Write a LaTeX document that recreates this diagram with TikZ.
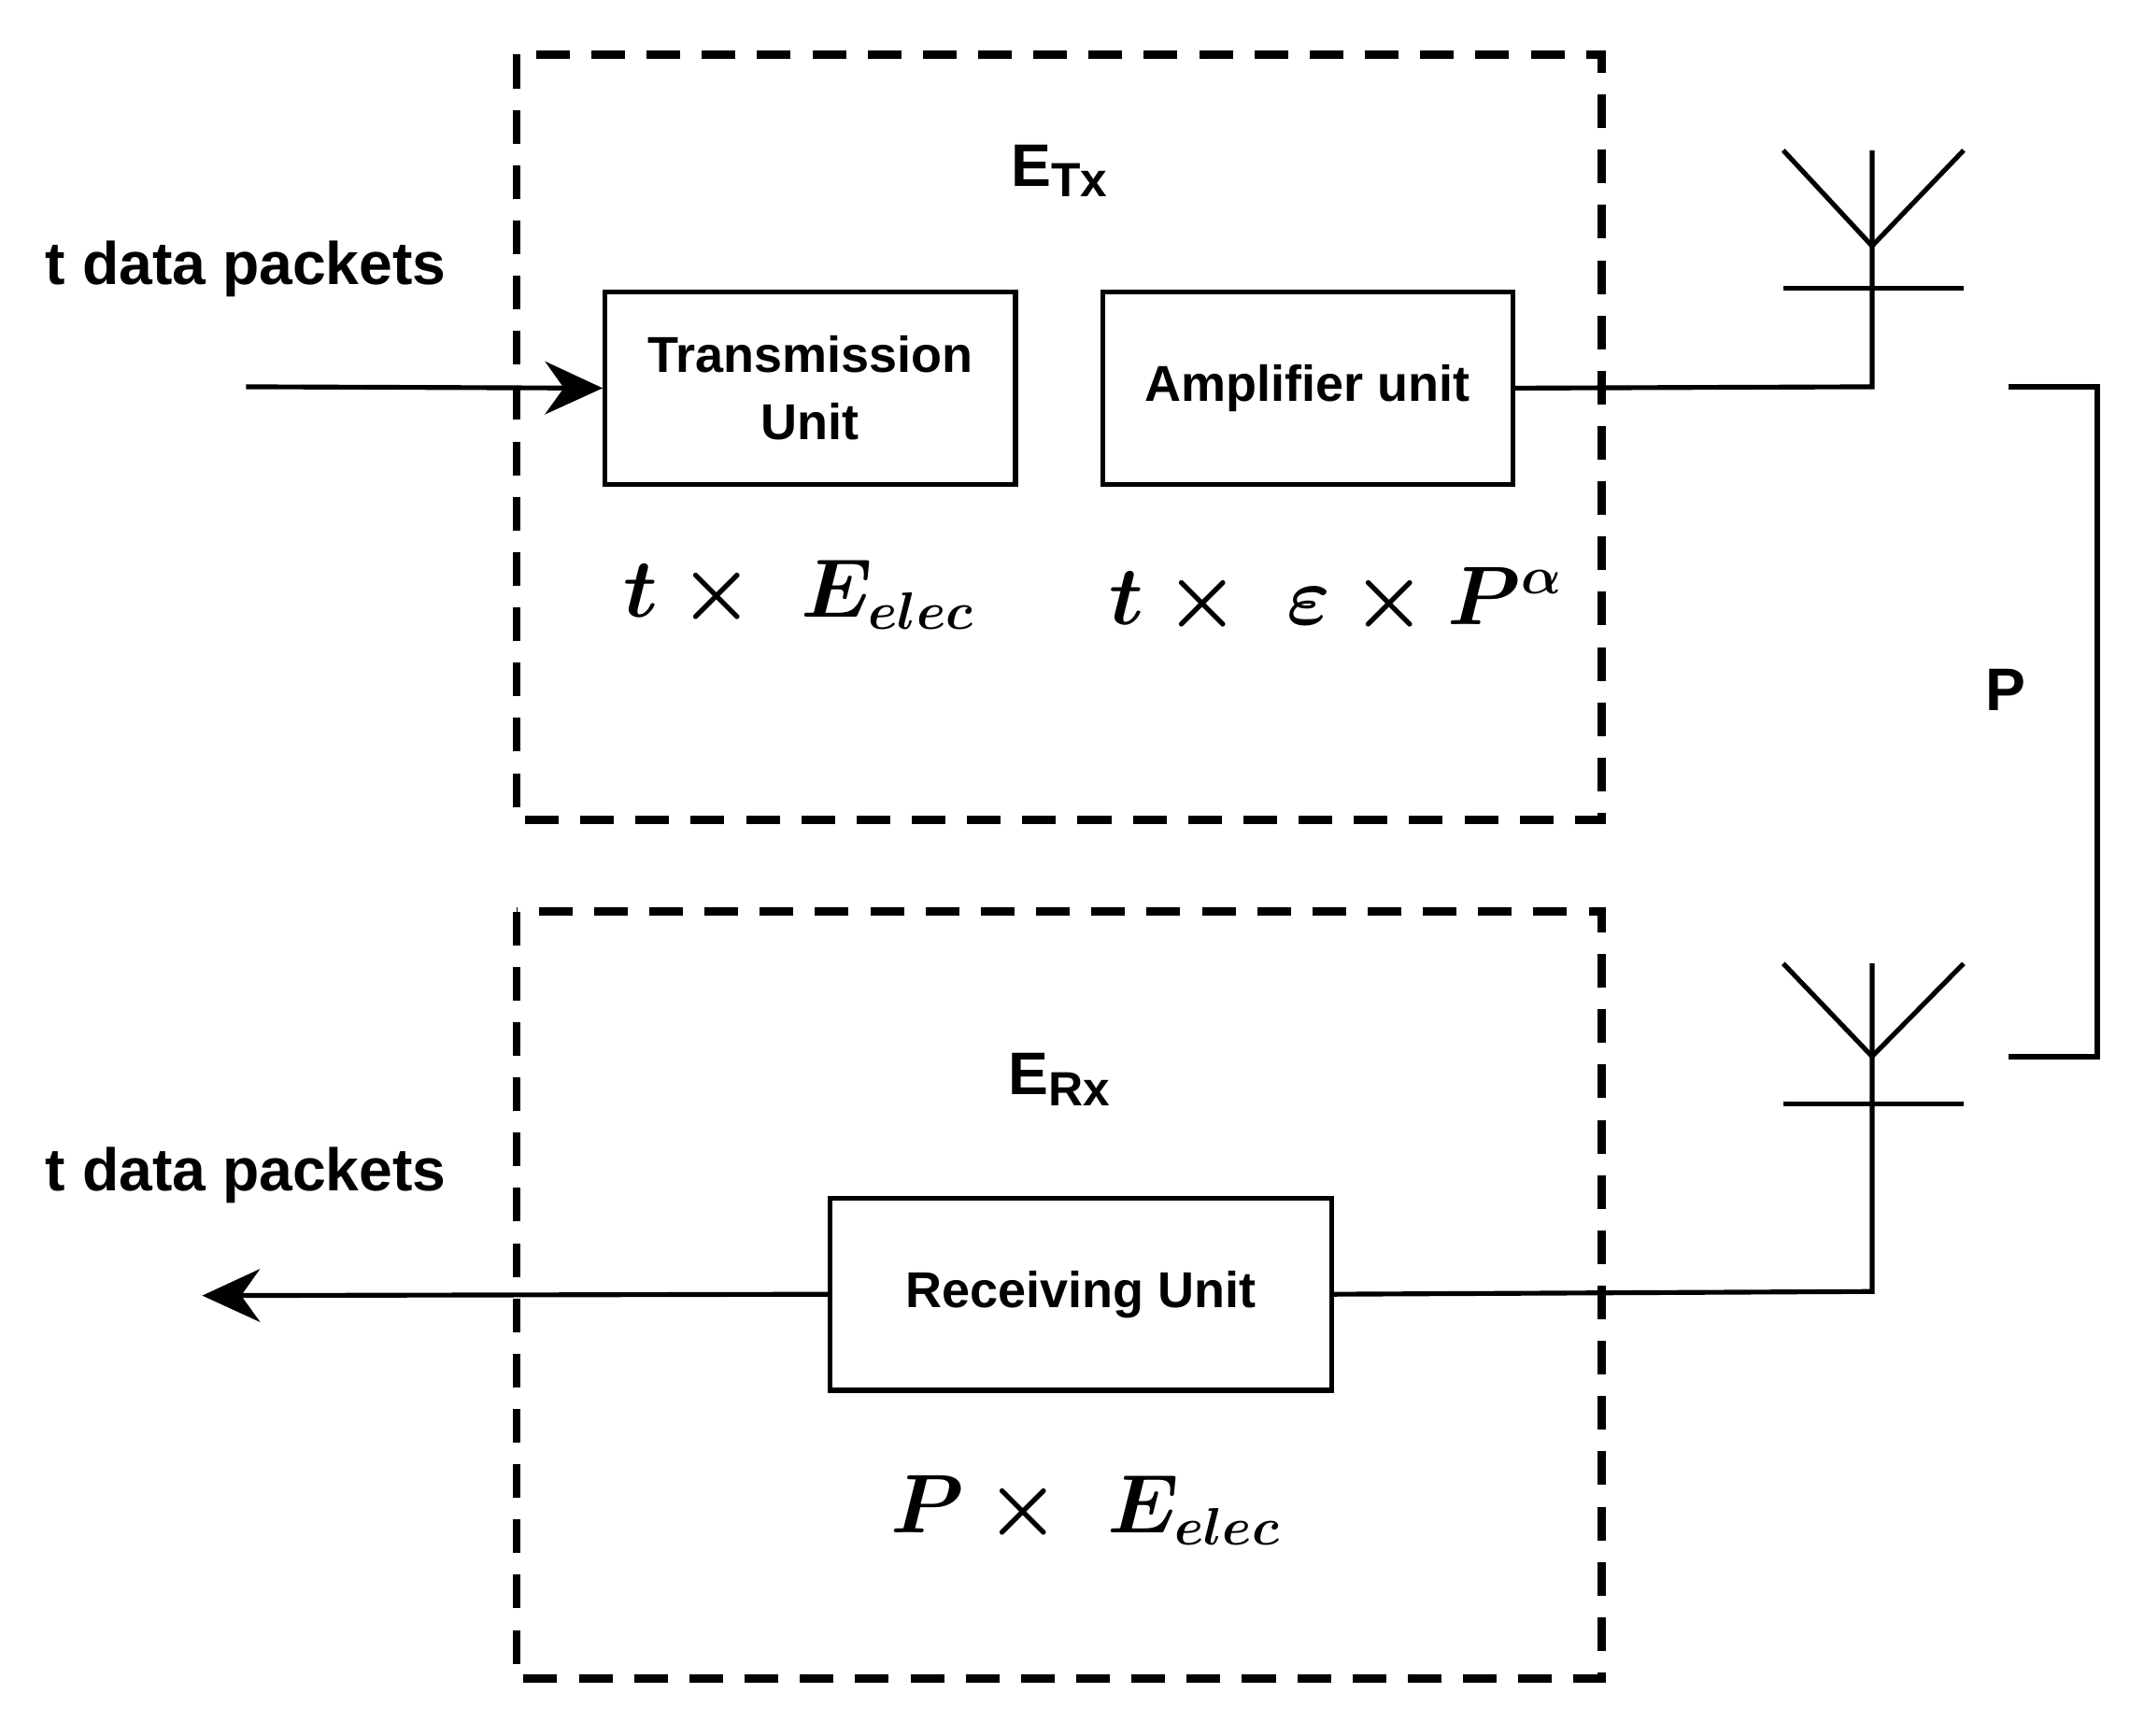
\documentclass[tikz,border=0pt]{standalone}
\usepackage{fontspec}
\setmainfont{Liberation Sans}
\usetikzlibrary{arrows.meta}
\begin{document}
\begin{tikzpicture}[x=0.01cm,y=-0.01cm,
  dbox/.style={draw,line width=1.7pt,dash pattern=on 7pt off 4.5pt},
  unit/.style={draw,line width=1pt,minimum height=40pt,align=center,font=\bfseries\fontsize{10.5}{14}\selectfont,inner sep=0pt},
  ln/.style={line width=1pt},
  lbl/.style={font=\bfseries\fontsize{12.5}{15}\selectfont},
  mth/.style={font=\boldmath\fontsize{16}{20}\selectfont}]
\useasboundingbox (0,0) rectangle (1569,1270);
\draw[dbox] (378,40) rectangle (1172,600);
\draw[dbox] (378,667) rectangle (1172,1228);
\node[lbl] (etx) at (775,125) {E\raisebox{-0.35ex}{\fontsize{10}{12}\selectfont Tx}};
\node[lbl] (erx) at (775,790) {E\raisebox{-0.35ex}{\fontsize{10}{12}\selectfont Rx}};
\node[lbl] (in) at (180,197) {t data packets};
\node[lbl] (out) at (180,860) {t data packets};
\node[unit,minimum width=85.4pt] (tu) at (593,284) {Transmission\\Unit};
\node[unit,minimum width=85.4pt] (au) at (957,284) {Amplifier unit};
\node[unit,minimum width=104.4pt] (ru) at (791,947) {Receiving Unit};
\coordinate (s) at (180,283);
\draw[ln,-{Stealth[length=12pt,width=11pt]}] (s) -- (tu.west);
\coordinate (a1) at (1370,283);
\coordinate (a1t) at (1370,180);
\draw[ln] (au.east) -- (a1) -- (1370,110);
\draw[ln] (1305,110) -- (a1t) -- (1437,110);
\draw[ln] (1305,211) -- (1437,211);
\coordinate (a2) at (1370,945);
\coordinate (a2t) at (1370,773);
\draw[ln] (ru.east) -- (a2) -- (1370,705);
\draw[ln] (1305,705) -- (a2t) -- (1437,705);
\draw[ln] (1305,808) -- (1437,808);
\draw[line width=1.2pt] (1470,283) -- (1535,283) -- (1535,773) -- (1470,773);
\node[lbl] (p) at (1468,505) {P};
\coordinate (e) at (148,948);
\draw[ln,-{Stealth[length=12pt,width=11pt]}] (ru.west) -- (e);
\node[mth] (m1) at (585,435) {$t\times\;E_{elec}$};
\node[mth] (m2) at (978,440) {$t\times\;\varepsilon\times P^{\alpha}$};
\node[mth] (m3) at (795,1105) {$P\times\;E_{elec}$};
\end{tikzpicture}
\end{document}
